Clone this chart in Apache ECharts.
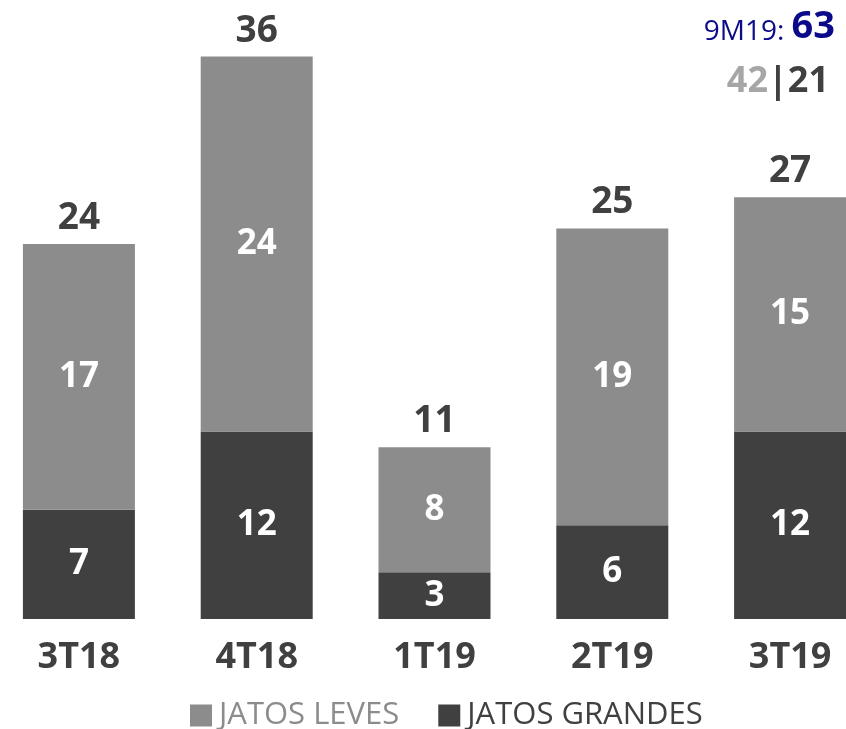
<!DOCTYPE html>
<html>
<head>
<meta charset="utf-8">
<script src="https://cdn.jsdelivr.net/npm/echarts@6/dist/echarts.min.js"></script>
<style>
  html, body { margin: 0; padding: 0; background: #fff; }
  #chart { width: 846px; height: 729px; }
</style>
</head>
<body>
<div id="chart"></div>
<script>
var categories = ["3T18", "4T18", "1T19", "2T19", "3T19"];
var jatosGrandes = [7, 12, 3, 6, 12];
var jatosLeves = [17, 24, 8, 19, 15];
var totals = [24, 36, 11, 25, 27];

var OPEN = "'Open Sans', sans-serif";
var chart = echarts.init(document.getElementById("chart"));

var insideLabel = {
  show: true,
  position: "inside",
  fontFamily: OPEN,
  fontSize: 35,
  fontWeight: "bold",
  color: "#ffffff"
};

var option = {
  animation: false,
  backgroundColor: "#ffffff",
  grid: {
    left: -10, right: -33, top: -6, bottom: 110,
    containLabel: false,
    outerBoundsMode: "none"
  },
  legend: {
    top: 695,
    left: 185,
    itemWidth: 22,
    itemHeight: 22,
    itemGap: 39,
    icon: "rect",
    data: [
      { name: "JATOS LEVES", textStyle: { color: "#8c8c8c" } },
      { name: "JATOS GRANDES", textStyle: { color: "#404040" } }
    ],
    textStyle: { fontFamily: OPEN, fontSize: 31, padding: [0, 0, 0, 2] }
  },
  xAxis: {
    type: "category",
    data: categories,
    axisLine: { show: false },
    axisTick: { show: false },
    axisLabel: {
      margin: 21,
      fontFamily: OPEN,
      fontSize: 36,
      fontWeight: "bold",
      color: "#404040"
    }
  },
  yAxis: {
    type: "value",
    min: 0,
    max: 40,
    show: false,
    splitLine: { show: false }
  },
  series: [
    {
      name: "JATOS GRANDES",
      type: "bar",
      stack: "total",
      barWidth: 112,
      data: jatosGrandes,
      itemStyle: { color: "#404040" },
      label: insideLabel
    },
    {
      name: "JATOS LEVES",
      type: "bar",
      stack: "total",
      barWidth: 112,
      data: jatosLeves,
      itemStyle: { color: "#8c8c8c" },
      label: insideLabel
    },
    {
      name: "total",
      type: "bar",
      barWidth: 112,
      barGap: "-100%",
      data: totals,
      silent: true,
      z: 0,
      itemStyle: { color: "rgba(0,0,0,0)" },
      label: {
        show: true,
        position: "top",
        distance: 7,
        fontFamily: OPEN,
        fontSize: 37,
        fontWeight: "bold",
        color: "#404040"
      }
    }
  ],
  graphic: [
    {
      type: "text",
      right: 11,
      top: 8,
      style: {
        text: "{a|9M19: }{b|63}",
        rich: {
          a: { fontFamily: OPEN, fontSize: 28, fill: "#0a0a8a", verticalAlign: "bottom" },
          b: { fontFamily: OPEN, fontSize: 38, fontWeight: "bold", fill: "#0a0a8a", verticalAlign: "bottom" }
        }
      }
    },
    {
      type: "text",
      right: 17,
      top: 64,
      style: {
        text: "{g|42}{d||21}",
        rich: {
          g: { fontFamily: OPEN, fontSize: 36, fontWeight: "bold", fill: "#a6a6a6" },
          d: { fontFamily: OPEN, fontSize: 36, fontWeight: "bold", fill: "#404040" }
        }
      }
    }
  ]
};

chart.setOption(option);
</script>
</body>
</html>
